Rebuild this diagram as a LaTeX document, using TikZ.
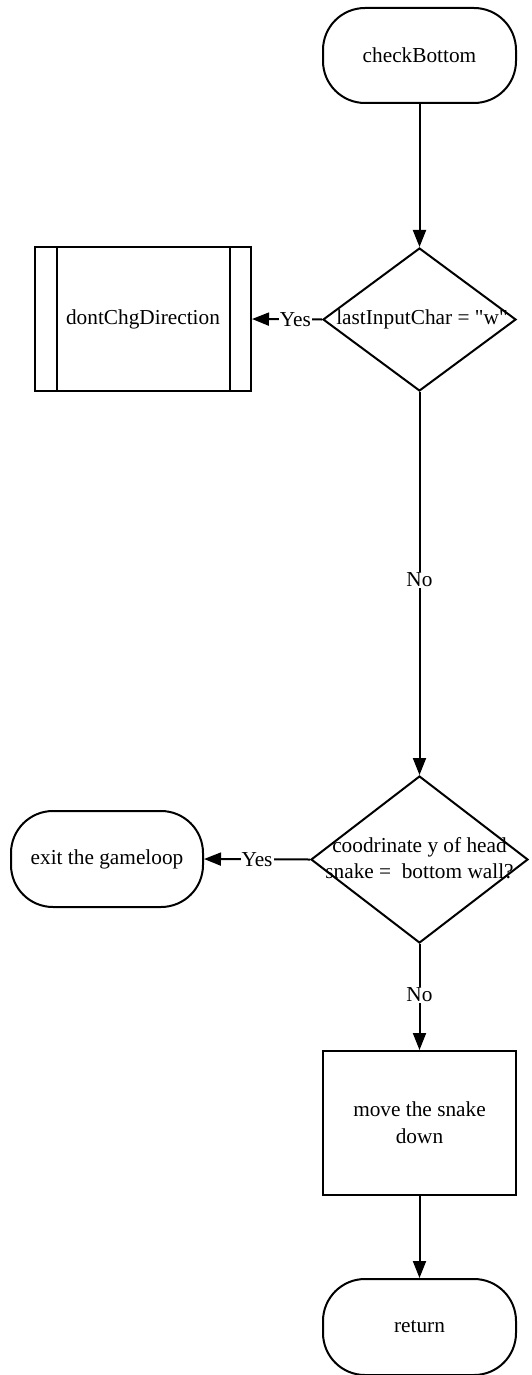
\documentclass[tikz,border=0pt]{standalone}
\usepackage{fontspec}
\setmainfont{Liberation Serif}[Ligatures=TeXOff]
\usetikzlibrary{shapes.geometric,arrows.meta}
\begin{document}
\begin{tikzpicture}[x=1pt,y=-1pt,
  base/.style={draw,line width=2pt,font=\fontsize{21.3}{27}\selectfont,align=center,inner sep=0pt},
  term/.style={base,minimum width=193pt,minimum height=95pt,rounded corners=42pt},
  proc/.style={base,minimum width=193pt,minimum height=144pt},
  dshape/.style={draw,line width=2pt,diamond,inner sep=0pt},
  txt/.style={font=\fontsize{21.3}{25.5}\selectfont,align=center,inner sep=0pt},
  conn/.style={line width=2pt,-{Triangle[length=17pt,width=13pt]}},
  lbl/.style={fill=white,inner sep=1pt,font=\fontsize{21.3}{22}\selectfont}]
\useasboundingbox (0,0) rectangle (531,1375);
\node[term] (start) at (419.5,55.5) {checkBottom};
\node[dshape,minimum width=193pt,minimum height=143pt,aspect=1.35] (d1) at (419.5,319.5) {};
\node[txt] (d1t) at (422,319.5) {lastInputChar = "w"};
\node[proc,minimum width=216pt] (dont) at (143,319) {dontChgDirection};
\draw[line width=2pt] (57,247) -- (57,391) (230,247) -- (230,391);
\node[dshape,minimum width=217pt,minimum height=167pt,aspect=1.3] (d2) at (419.5,859.5) {};
\node[txt] (d2t) at (419.5,858) {coodrinate y of head\\snake =\ \ bottom wall?};
\node[term,minimum width=192pt,minimum height=96pt] (exit) at (107,859) {exit the gameloop};
\node[proc] (move) at (419.5,1123) {move the snake\\down};
\node[term,minimum height=96pt] (ret) at (419.5,1327) {return};
\draw[conn] (start) -- (d1);
\draw[conn] (d1.west) -- node[lbl,pos=0.38]{Yes} (dont.east);
\draw[conn] (d1.south) -- node[lbl,pos=0.49]{No} (d2.north);
\draw[conn] (d2.west) -- node[lbl,pos=0.5]{Yes} (exit.east);
\draw[conn] (d2.south) -- node[lbl,pos=0.48]{No} (move.north);
\draw[conn] (move) -- (ret);
\end{tikzpicture}
\end{document}
